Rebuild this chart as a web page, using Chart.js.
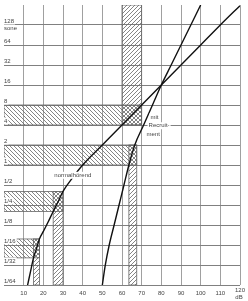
<!DOCTYPE html>
<html>
<head>
<meta charset="utf-8">
<script src="https://cdn.jsdelivr.net/npm/chart.js@4/dist/chart.umd.min.js"></script>
<style>
    html, body { margin: 0; padding: 0; background: #fff; }
    #wrap { width: 248px; height: 301px; }
</style>
</head>
<body>
<div id="wrap"><canvas id="chart" width="248" height="301"></canvas></div>
<script>
// Achsen
const dbTicks = [10, 20, 30, 40, 50, 60, 70, 80, 90, 100, 110, 120];
const soneTicks = [1/64, 1/32, 1/16, 1/8, 1/4, 1/2, 1, 2, 4, 8, 16, 32, 64, 128];
const soneLabels = ['1/64', '1/32', '1/16', '1/8', '1/4', '1/2', '1', '2', '4', '8', '16', '32', '64', '128'];

// Kurve normalhörend (dB, sone)
const normalDb   = [12, 13.5, 15, 16.5, 18, 20, 22.5, 25, 27.5, 30, 35, 40, 50, 60, 70, 80, 90, 100, 110, 120];
const normalSone = [0.0156, 0.025, 0.04, 0.055, 0.077, 0.1, 0.14, 0.2, 0.28, 0.4, 0.65, 1, 2, 4, 8, 16, 32, 64, 128, 250];

// Kurve mit Recruitment (dB, sone)
const recruitDb   = [50, 51.5, 53.5, 56, 58.5, 61, 63.5, 66.5, 71, 75.5, 80, 85, 90, 95, 100];
const recruitSone = [0.0156, 0.031, 0.0625, 0.125, 0.25, 0.5, 1, 2, 4, 8, 16, 32, 64, 128, 256];

// schraffierte Streifen: waagerecht (sone von/bis, endet bei dB)
const rowFrom = [0.04, 0.2, 1, 4];
const rowTo   = [0.077, 0.4, 2, 8];
const rowEnd  = [18, 30, 67.5, 70];

// schraffierte Streifen: senkrecht (dB von/bis, sone unten/oben)
const colFrom = [15, 25, 63.5, 60];
const colTo   = [18, 30, 67.5, 70];
const colLow  = [1/64, 1/64, 1/64, 4];
const colHigh = [0.077, 0.4, 2, 256];

const FONT = '6px "Liberation Sans", Arial, sans-serif';
const TEXT = '#444';

const canvas = document.getElementById('chart');
const ctx = canvas.getContext('2d');

/**
 * Schraffur-Muster
 */
function makeHatch(dir) {
    const c = document.createElement('canvas');
    c.width = 4;
    c.height = 4;
    const g = c.getContext('2d');
    g.strokeStyle = '#666';
    g.lineWidth = 0.8;
    g.beginPath();
    if (dir === 'down') {
        g.moveTo(-1, -1); g.lineTo(5, 5);
        g.moveTo(-1, 3); g.lineTo(1, 5);
        g.moveTo(3, -1); g.lineTo(5, 1);
    } else {
        g.moveTo(-1, 5); g.lineTo(5, -1);
        g.moveTo(-1, 1); g.lineTo(1, -1);
        g.moveTo(3, 5); g.lineTo(5, 3);
    }
    g.stroke();
    return ctx.createPattern(c, 'repeat');
}

const hatchDown = makeHatch('down');
const hatchUp = makeHatch('up');

function toPoints(xs, ys) {
    return xs.map((x, i) => ({ x: x, y: ys[i] }));
}

// Streifen zeichnen (unter den Kurven)
const bandsPlugin = {
    id: 'bands',
    beforeDatasetsDraw(chart) {
        const { ctx: c, chartArea: a, scales: { x, y } } = chart;
        c.save();
        c.beginPath();
        c.rect(a.left, a.top, a.right - a.left, a.bottom - a.top);
        c.clip();
        c.strokeStyle = '#666';
        c.lineWidth = 0.8;

        const rect = (x1, x2, y1, y2, pat) => {
            const l = x.getPixelForValue(x1), r = x.getPixelForValue(x2);
            const t = y.getPixelForValue(y2), b = y.getPixelForValue(y1);
            c.fillStyle = pat;
            c.fillRect(l, t, r - l, b - t);
            c.strokeRect(l, t, r - l, b - t);
        };

        rowFrom.forEach((v, i) => rect(0, rowEnd[i], v, rowTo[i], hatchDown));
        colFrom.forEach((v, i) => rect(v, colTo[i], colLow[i], colHigh[i], hatchUp));
        c.restore();
    }
};

// Beschriftung mit weißem Hintergrund
function label(c, text, px, py, align) {
    c.font = FONT;
    c.textAlign = align || 'left';
    c.textBaseline = 'middle';
    const w = c.measureText(text).width;
    const left = align === 'center' ? px - w / 2 : px;
    c.fillStyle = '#fff';
    c.fillRect(left - 1, py - 3.5, w + 2, 7);
    c.fillStyle = TEXT;
    c.fillText(text, px, py);
}

const labelsPlugin = {
    id: 'labels',
    afterDatasetsDraw(chart) {
        const { ctx: c, scales: { x, y } } = chart;
        c.save();

        // sone-Werte links, über der Linie
        soneTicks.forEach((v, i) => {
            label(c, soneLabels[i], 4, y.getPixelForValue(v) - 4);
        });
        label(c, 'sone', 4, y.getPixelForValue(128) + 3.5);

        // dB-Werte unten
        c.font = FONT;
        c.textAlign = 'center';
        c.textBaseline = 'middle';
        c.fillStyle = TEXT;
        dbTicks.forEach(v => {
            const py = v === 120 ? 290 : 293;
            c.fillText(String(v), x.getPixelForValue(v), py);
        });
        c.fillText('dB', x.getPixelForValue(120) - 1, 297);

        // Kurvennamen
        label(c, 'normalhörend', x.getPixelForValue(35), y.getPixelForValue(0.7), 'center');
        label(c, 'mit', x.getPixelForValue(74.5), y.getPixelForValue(5.3));
        label(c, 'Recruit-', x.getPixelForValue(73.5), y.getPixelForValue(3.9));
        label(c, 'ment', x.getPixelForValue(72.5), y.getPixelForValue(2.85));

        c.restore();
    }
};

const lineStyle = {
    borderColor: '#111',
    borderWidth: 1.4,
    pointRadius: 0,
    fill: false,
    cubicInterpolationMode: 'monotone'
};

new Chart(ctx, {
    type: 'line',
    data: {
        datasets: [
            Object.assign({ label: 'normalhörend', data: toPoints(normalDb, normalSone) }, lineStyle),
            Object.assign({ label: 'mit Recruitment', data: toPoints(recruitDb, recruitSone) }, lineStyle)
        ]
    },
    options: {
        responsive: false,
        animation: false,
        devicePixelRatio: 1,
        layout: { padding: { left: 4, right: 8, top: 5, bottom: 16 } },
        plugins: {
            legend: { display: false },
            tooltip: { enabled: false }
        },
        scales: {
            x: {
                type: 'linear',
                min: 0,
                max: 120,
                afterBuildTicks: (scale) => {
                    scale.ticks = [0].concat(dbTicks).map(v => ({ value: v }));
                },
                ticks: { display: false },
                border: { display: false },
                grid: {
                    drawTicks: false,
                    lineWidth: 1,
                    color: (c) => c.tick && c.tick.value === 0 ? 'rgba(0,0,0,0)' : '#a0a0a0'
                }
            },
            y: {
                type: 'logarithmic',
                min: 1/64,
                max: 256,
                afterBuildTicks: (scale) => {
                    scale.ticks = soneTicks.map(v => ({ value: v }));
                },
                ticks: { display: false },
                border: { display: false },
                grid: {
                    drawTicks: false,
                    lineWidth: 1,
                    color: '#808080'
                }
            }
        }
    },
    plugins: [bandsPlugin, labelsPlugin]
});
</script>
</body>
</html>
